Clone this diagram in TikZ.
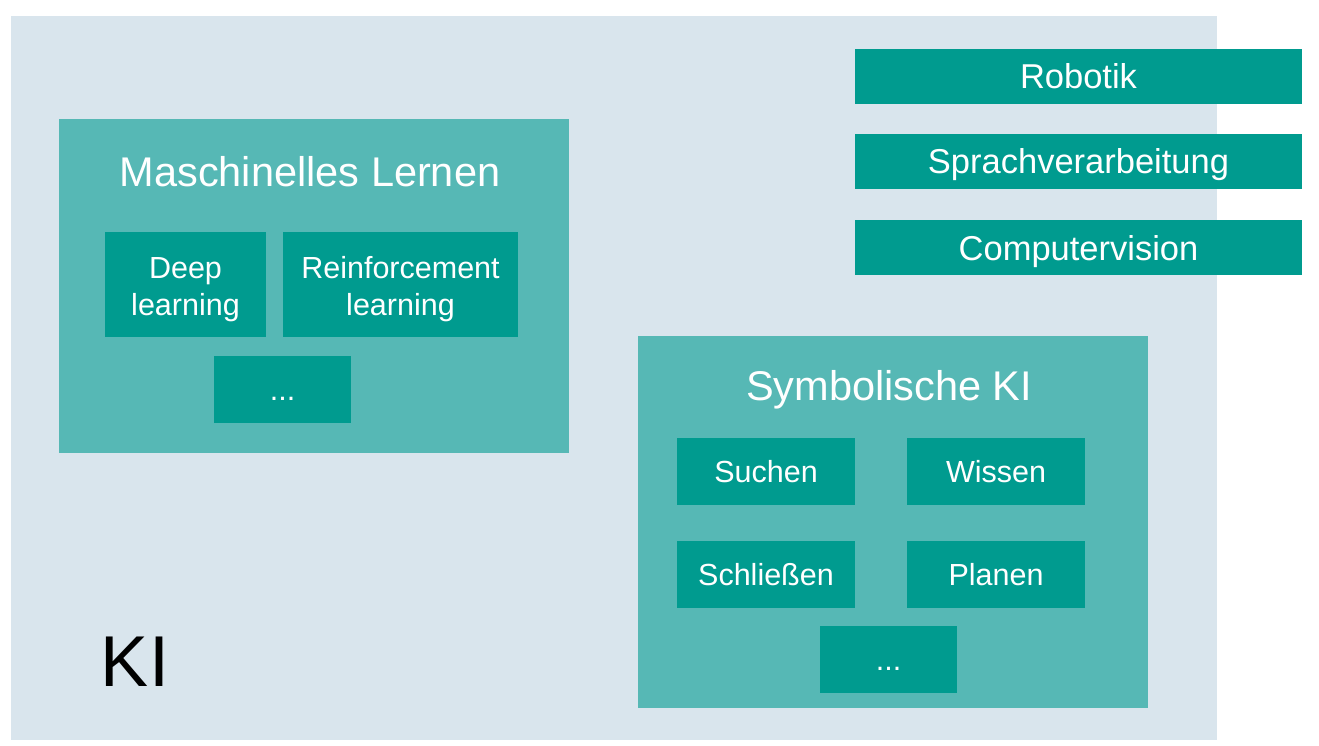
\documentclass[tikz,border=0pt]{standalone}
\usepackage{fontspec}
\setmainfont{Liberation Sans}
\definecolor{kibg}{HTML}{D9E5ED}
\definecolor{midteal}{HTML}{56B8B5}
\definecolor{darkteal}{HTML}{009B8F}
\tikzset{
  area/.style={fill=midteal, draw=none, anchor=north west, inner sep=0pt},
  topicbox/.style={fill=darkteal, draw=none, text=white, inner sep=0pt, minimum width=447pt, minimum height=55pt,
    font=\fontsize{34.5}{40}\selectfont, text height=25pt, text depth=0pt},
  subbox/.style={fill=darkteal, draw=none, text=white, inner sep=0pt, align=center,
    font=\fontsize{30.5}{37}\selectfont},
  twoline/.style={subbox, text height=61pt, text depth=0pt},
  dotsbox/.style={subbox, text height=21pt, text depth=0pt},
  titletext/.style={text=white, inner sep=0pt, font=\fontsize{41.5}{48}\selectfont, text height=30pt, text depth=0pt},
}
\begin{document}
\begin{tikzpicture}[x=1pt,y=-1pt]
\useasboundingbox (0,0) rectangle (1319,746);
% outer KI area
\fill[kibg] (11,16) rectangle (1217,740);
\node[inner sep=0pt, font=\fontsize{72}{80}\selectfont, text height=52pt, text depth=0pt] (ki) at (135,660) {KI};
% topic boxes
\node[topicbox] (robotik) at (1078.5,76.5) {Robotik};
\node[topicbox] (sprache) at (1078.5,161.5) {Sprachverarbeitung};
\node[topicbox] (vision) at (1078.5,247.5) {Computervision};
% Maschinelles Lernen
\node[area, minimum width=510pt, minimum height=334pt] (ml) at (59,119) {};
\node[titletext] (mltitle) at (310,171) {Maschinelles Lernen};
\node[twoline, minimum width=161pt, minimum height=105pt] (deep) at (185.5,284.5) {Deep\\learning};
\node[twoline, minimum width=235pt, minimum height=105pt] (reinf) at (400.5,284.5) {Reinforcement\\learning};
\node[dotsbox, minimum width=137pt, minimum height=67pt] (mldots) at (282.5,389.5) {...};
% Symbolische KI
\node[area, minimum width=510pt, minimum height=372pt] (sym) at (638,336) {};
\node[titletext] (symtitle) at (889,385) {Symbolische KI};
\node[subbox, minimum width=178pt, minimum height=67pt] (suchen) at (766,471.5) {Suchen};
\node[subbox, minimum width=178pt, minimum height=67pt] (wissen) at (996,471.5) {Wissen};
\node[subbox, minimum width=178pt, minimum height=67pt] (schliessen) at (766,574.5) {Schließen};
\node[subbox, minimum width=178pt, minimum height=67pt] (planen) at (996,574.5) {Planen};
\node[dotsbox, minimum width=137pt, minimum height=67pt] (symdots) at (888.5,659.5) {...};
\end{tikzpicture}
\end{document}
